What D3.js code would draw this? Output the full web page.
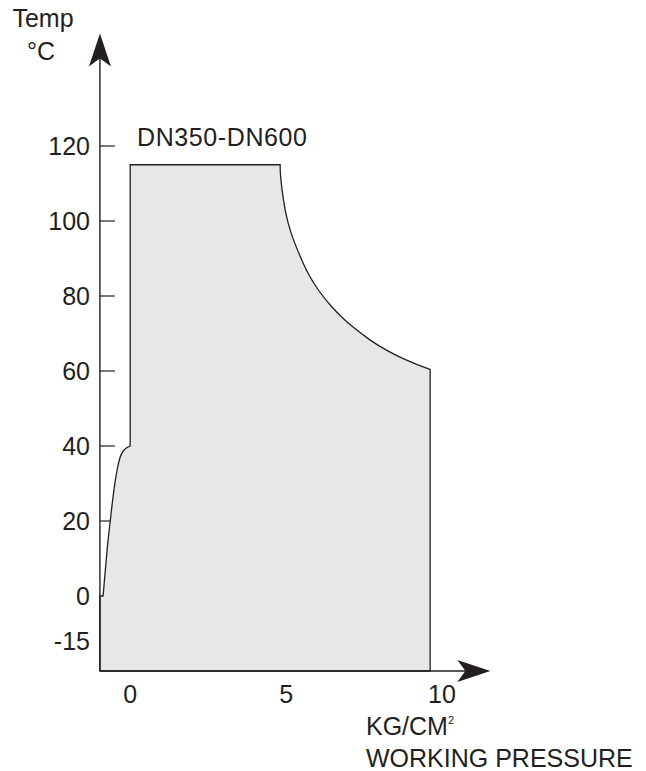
<!DOCTYPE html>
<html><head><meta charset="utf-8">
<script src="https://cdn.jsdelivr.net/npm/d3@7"></script>
<style>
html,body{margin:0;padding:0;background:#fff;}
svg text{font-family:"Liberation Sans",Arial,Helvetica,sans-serif;fill:#231f20;}
</style></head>
<body>
<svg id="c" width="646" height="771"></svg>
<script>
// ---- data ----
const yTickValues = [120, 100, 80, 60, 40, 20];
const yTickLabels = ["120", "100", "80", "60", "40", "20", "0", "-15"];
const yLabelValues = [120, 100, 80, 60, 40, 20, 0, -15];
const xTickValues = [0, 5, 10];
const xTickLabels = ["0", "5", "10"];
// left foot curve (pressure, temp)
const footPressure = [-0.97, -0.87, -0.74, -0.64, -0.52, -0.42, -0.33, -0.20, 0];
const footTemp     = [0, 0, 12.3, 20, 28.3, 33.6, 36.8, 38.9, 40];
// right limit curve (pressure, temp)
const limitPressure = [4.81, 4.81, 4.86, 4.97, 5.13, 5.45, 5.69, 6.02, 6.45, 6.88, 7.13, 7.67, 8.19, 8.71, 9.20, 9.62, 9.62];
const limitTemp     = [115, 113, 108.7, 102.5, 97.1, 90.5, 86.1, 81.6, 77.1, 73.6, 71.8, 68.3, 65.6, 63.4, 61.7, 60.4, 60.4];
const maxTemp = 115;
const seriesLabel = "DN350-DN600";

const svg = d3.select("#c");
const ink = "#231f20";
const fs = 25;

const x = d3.scaleLinear().domain([-1, 10]).range([99, 442]);
const y = d3.scaleLinear().domain([-23, -15, 0, 150]).range([671, 641, 596, 33.5]);

const xMin = -0.97, yMin = -23, xMaxAxis = 11.55, yMaxAxis = 150;

// y ticks (drawn under the fill)
svg.append("g").selectAll("line").data(yTickValues).join("line")
  .attr("x1", x(xMin)).attr("x2", x(xMin) + 15)
  .attr("y1", d => y(d)).attr("y2", d => y(d))
  .attr("stroke", ink).attr("stroke-width", 1.2);

// shape outline
const foot = footPressure.map((p, i) => [p, footTemp[i]]);
const limit = limitPressure.map((p, i) => [p, limitTemp[i]]);
const footCurve = d3.line().x(d => x(d[0])).y(d => y(d[1])).curve(d3.curveMonotoneX);
const limitCurve = d3.line().x(d => x(d[0])).y(d => y(d[1])).curve(d3.curveBasis);

let path = "M" + x(xMin) + "," + y(yMin) + "L" + x(foot[0][0]) + "," + y(foot[0][1]);
path += footCurve(foot.slice(1)).replace(/^M/, "L");
path += "L" + x(0) + "," + y(maxTemp);
path += limitCurve(limit).replace(/^M/, "L");
path += "L" + x(limit[limit.length - 1][0]) + "," + y(yMin) + "Z";

svg.append("path").attr("d", path)
  .attr("fill", "#e6e7e8").attr("stroke", ink).attr("stroke-width", 1.3)
  .attr("stroke-linejoin", "miter");

// axes
const ax0 = x(xMin), ay0 = y(yMin);
svg.append("line").attr("x1", ax0).attr("y1", ay0).attr("x2", ax0).attr("y2", y(yMaxAxis) + 20)
  .attr("stroke", ink).attr("stroke-width", 1.4);
svg.append("line").attr("x1", ax0).attr("y1", ay0).attr("x2", x(xMaxAxis) - 20).attr("y2", ay0)
  .attr("stroke", ink).attr("stroke-width", 1.4);

// arrowheads
function arrow(tx, ty, angle) {
  const g = svg.append("g").attr("transform", `translate(${tx},${ty}) rotate(${angle})`);
  g.append("path").attr("d", "M0,0 L-33,-11 Q-27,-3 -25,0 Q-27,3 -33,11 Z").attr("fill", ink);
}
arrow(ax0, y(yMaxAxis), -90);
arrow(x(xMaxAxis), ay0, 0);

// y labels
svg.append("g").selectAll("text").data(yLabelValues).join("text")
  .attr("x", 90).attr("y", d => y(d)).attr("dy", "0.36em")
  .attr("text-anchor", "end").attr("font-size", fs)
  .text((d, i) => yTickLabels[i]);

// x labels
svg.append("g").selectAll("text").data(xTickValues).join("text")
  .attr("x", d => x(d)).attr("y", 703)
  .attr("text-anchor", "middle").attr("font-size", fs)
  .text((d, i) => xTickLabels[i]);

// titles
svg.append("text").attr("x", 43).attr("y", 27).attr("text-anchor", "middle").attr("font-size", fs).text("Temp");
svg.append("text").attr("x", 41).attr("y", 60).attr("text-anchor", "middle").attr("font-size", fs).text("°C");
svg.append("text").attr("x", 137).attr("y", 146).attr("font-size", fs).attr("letter-spacing", 0.6).text(seriesLabel);

const kg = svg.append("text").attr("x", 366).attr("y", 735).attr("font-size", fs);
kg.append("tspan").text("KG/CM");
kg.append("tspan").attr("font-size", 11).attr("dy", -11).text("2");
svg.append("text").attr("x", 366).attr("y", 767).attr("font-size", fs).text("WORKING PRESSURE");
</script>
</body></html>
